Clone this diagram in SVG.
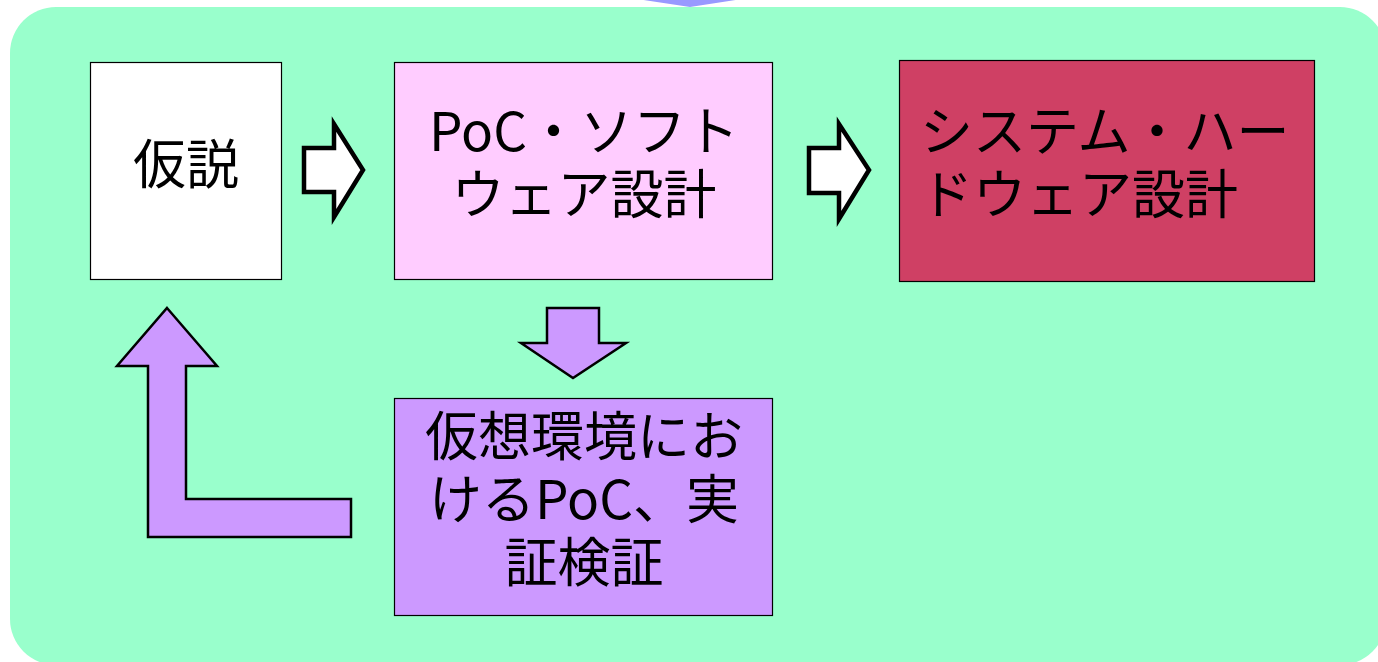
<svg xmlns="http://www.w3.org/2000/svg" width="1378" height="662" viewBox="0 0 1378 662">
<style>
.box{stroke:#000;stroke-width:1.2}
.t{font-family:"Noto Sans CJK JP","Noto Sans",sans-serif;font-size:53px;fill:#000}
.m{text-anchor:middle}
.big{fill:#fff;stroke:#000;stroke-width:4.5;stroke-linejoin:miter}
.pur{fill:#cc99ff;stroke:#000;stroke-width:2.5;stroke-linejoin:miter}
</style>
<rect x="0" y="0" width="1378" height="662" fill="#fff"/>
<rect x="10" y="7" width="1376" height="658" rx="46" ry="46" fill="#99ffcc"/>
<polygon points="637,-1 742,-1 690,7" fill="#9999ff"/>
<g id="connectors">
<polygon class="big" points="304,148 334,148 334,124 363,170 334,217 334,192 304,192"/>
<polygon class="big" points="809,148 839,148 839,124 869,170 839,219 839,193 809,193"/>
<polygon class="pur" points="547,308 599,308 599,343 626,343 573,378 521,343 547,343"/>
<polygon class="pur" points="167,308 217,366 186,366 186,499 351,499 351,537 148,537 148,366 117,366"/>
</g>
<g id="n1">
<rect class="box" x="90.5" y="62.5" width="191" height="217" fill="#fff"/>
<text class="t m" x="186" y="184">仮説</text>
</g>
<g id="n2">
<rect class="box" x="394.5" y="62.5" width="378" height="217" fill="#ffccff"/>
<text class="t m" x="584" y="151">PoC・ソフト<tspan x="584" dy="63">ウェア設計</tspan></text>
</g>
<g id="n3">
<rect class="box" x="899.5" y="60.5" width="415" height="221" fill="#cf4064"/>
<text class="t" x="920" y="151">システム・ハー<tspan x="920" dy="63">ドウェア設計</tspan></text>
</g>
<g id="n4">
<rect class="box" x="394.5" y="398.5" width="378" height="217" fill="#cc99ff"/>
<text class="t m" x="584" y="456">仮想環境にお<tspan x="584" dy="63">けるPoC、実</tspan><tspan x="584" dy="63">証検証</tspan></text>
</g>
</svg>
